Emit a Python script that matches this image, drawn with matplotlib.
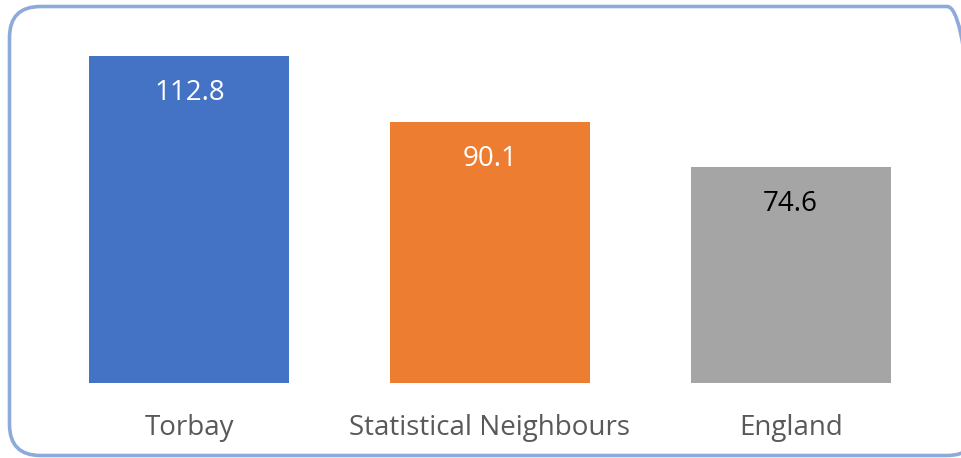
import matplotlib.pyplot as plt
from matplotlib.patches import FancyBboxPatch
from matplotlib.transforms import IdentityTransform

categories = ["Torbay", "Statistical Neighbours", "England"]
values = [112.8, 90.1, 74.6]
bar_colors = ["#4472C4", "#ED7D31", "#A5A5A5"]
label_colors = ["white", "white", "black"]

plt.rcParams['font.family'] = ['Open Sans', 'DejaVu Sans']

W, H = 962, 458
fig = plt.figure(figsize=(W / 100, H / 100), dpi=100)

# rounded outer border in pixel coords, runs off the right edge
border = FancyBboxPatch((9.5, 2.5), 978 - 9.5, H - 6.5 - 2.5,
                        boxstyle="round,pad=0,rounding_size=31",
                        transform=IdentityTransform(), facecolor="none",
                        edgecolor="#8EAADB", linewidth=2.6, zorder=5)
fig.patches.append(border)

ax = fig.add_axes([39 / W, (H - 383) / H, (941 - 39) / W, (383 - 35) / H])
ax.patch.set_visible(False)
x = list(range(len(categories)))
bars = ax.bar(x, values, width=0.665, color=bar_colors)
ax.set_xlim(-0.5, 2.5)
ax.set_ylim(0, 120)

for b, v, c in zip(bars, values, label_colors):
    ax.annotate(f"{v:.1f}", (b.get_x() + b.get_width() / 2, v),
                xytext=(0, -44), textcoords="offset pixels",
                ha="center", va="baseline", fontsize=20, color=c)

for xi, name in zip(x, categories):
    ax.annotate(name, (xi, 0), xycoords=("data", "axes fraction"),
                xytext=(0, -52), textcoords="offset pixels",
                ha="center", va="baseline", fontsize=20, color="#595959")

ax.set_xticks([])
ax.set_yticks([])
for s in ax.spines.values():
    s.set_visible(False)

fig.savefig("out.png", dpi=100)
